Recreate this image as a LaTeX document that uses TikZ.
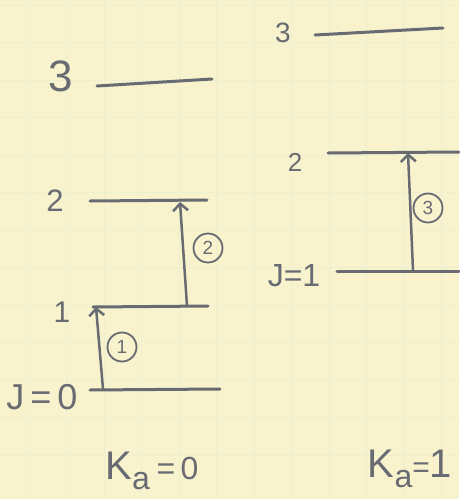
\documentclass[tikz,border=0pt]{standalone}
\usepackage{fontspec}
\setmainfont{Liberation Sans}
\usetikzlibrary{arrows.meta}
\definecolor{paper}{RGB}{248,242,205}
\definecolor{gridc}{RGB}{236,239,208}
\definecolor{pencil}{RGB}{105,107,114}
\begin{document}
\begin{tikzpicture}[x=1pt,y=-1pt,
  level/.style={draw=pencil, line width=3pt, line cap=round},
  trans/.style={draw=pencil, line width=2.5pt, line cap=round,
    -{Straight Barb[length=7pt,width=15pt,line width=2.5pt]}},
  lab/.style={text=pencil, inner sep=0pt},
  circ/.style={draw=pencil, circle, line width=1.8pt, inner sep=0pt,
    minimum size=29pt, text=pencil, font=\fontsize{19}{19}\selectfont}]
\fill[paper] (0,0) rectangle (459,499);
\useasboundingbox (0,0) rectangle (459,499);
% faint grid
\foreach \i in {0,...,12} {
  \draw[gridc, line width=0.8pt] (29+37.5*\i,0) -- (29+37.5*\i,499);
  \draw[gridc, line width=0.8pt] (0,5+37.5*\i) -- (459,5+37.5*\i);
}
% left stack (K_a = 0)
\coordinate (l3a) at (97,86);  \coordinate (l3b) at (212,79);
\coordinate (l2a) at (90,201); \coordinate (l2b) at (207,200);
\coordinate (l1a) at (93,307); \coordinate (l1b) at (208,306);
\coordinate (l0a) at (90,390); \coordinate (l0b) at (220,389);
\draw[level] (l3a) -- (l3b);
\draw[level] (l2a) -- (l2b);
\draw[level] (l1a) -- (l1b);
\draw[level] (l0a) -- (l0b);
\node[lab, font=\fontsize{44}{44}\selectfont] (t3) at (61,76) {3};
\node[lab, font=\fontsize{31}{31}\selectfont] (t2) at (55,201) {2};
\node[lab, font=\fontsize{30}{30}\selectfont] (t1) at (62,312) {1};
\node[lab, font=\fontsize{36}{36}\selectfont] (t0) at (42,397) {J\,=\,0};
\coordinate (a1s) at (103,389); \coordinate (a1e) at (96,307);
\coordinate (a2s) at (187,306); \coordinate (a2e) at (180,202);
\draw[trans] (a1s) -- (a1e);
\draw[trans] (a2s) -- (a2e);
\node[circ] (c1) at (122,347) {1};
\node[circ] (c2) at (208,248) {2};
% right stack (K_a = 1)
\coordinate (r3a) at (315,35); \coordinate (r3b) at (443,28);
\coordinate (r2a) at (328,153); \coordinate (r2b) at (459,152);
\coordinate (r1a) at (337,271); \coordinate (r1b) at (459,271);
\draw[level] (r3a) -- (r3b);
\draw[level] (r2a) -- (r2b);
\draw[level] (r1a) -- (r1b);
\node[lab, font=\fontsize{28}{28}\selectfont] (s3) at (283,33) {3};
\node[lab, font=\fontsize{26}{26}\selectfont] (s2) at (295,162) {2};
\node[lab, font=\fontsize{32}{32}\selectfont] (s1) at (294,276) {J=1};
\coordinate (a3s) at (413,270); \coordinate (a3e) at (408,153);
\draw[trans] (a3s) -- (a3e);
\node[circ] (c3) at (428,208) {3};
% K_a labels
\node[lab, font=\fontsize{40}{40}\selectfont, anchor=base] (k0) at (152,479)
  {K\raisebox{-10pt}{\fontsize{32}{32}\selectfont a}\,{\fontsize{32}{32}\selectfont =\,0}};
\node[lab, font=\fontsize{40}{40}\selectfont, anchor=base] (k1) at (410,477)
  {K\raisebox{-10pt}{\fontsize{32}{32}\selectfont a}{\fontsize{30}{30}\selectfont =}1};
\end{tikzpicture}
\end{document}
